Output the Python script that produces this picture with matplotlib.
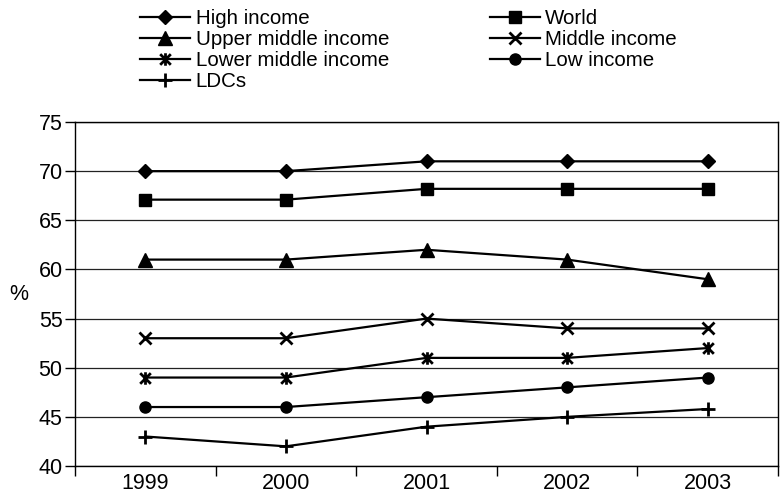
import matplotlib
matplotlib.use("Agg")
import matplotlib.pyplot as plt
from matplotlib.path import Path

plt.rcParams['font.family'] = ['Liberation Sans', 'DejaVu Sans']

years = ['1999', '2000', '2001', '2002', '2003']

high_income = [70, 70, 71, 71, 71]
world = [67.1, 67.1, 68.2, 68.2, 68.2]
upper_middle = [61, 61, 62, 61, 59]
middle_income = [53, 53, 55, 54, 54]
lower_middle = [49, 49, 51, 51, 52]
low_income = [46, 46, 47, 48, 49]
ldcs = [43, 42, 44, 45, 45.8]

# asterisk marker: vertical bar plus an X
star = Path([(0, -1), (0, 1), (-0.85, -0.85), (0.85, 0.85), (-0.85, 0.85), (0.85, -0.85)],
            [Path.MOVETO, Path.LINETO, Path.MOVETO, Path.LINETO, Path.MOVETO, Path.LINETO])

fig = plt.figure(figsize=(7.8, 4.97), dpi=100)
ax = fig.add_axes([75 / 780, 31 / 497, 703 / 780, 344 / 497])

x = range(len(years))
kw = dict(color='black', lw=1.6)
h1, = ax.plot(x, high_income, marker='D', ms=7, label='High income', **kw)
h2, = ax.plot(x, world, marker='s', ms=8, label='World', **kw)
h3, = ax.plot(x, upper_middle, marker='^', ms=9.5, label='Upper middle income', **kw)
h4, = ax.plot(x, middle_income, marker='x', ms=8, mew=2, label='Middle income', **kw)
h5, = ax.plot(x, lower_middle, marker=star, ms=9, mew=2, label='Lower middle income', **kw)
h6, = ax.plot(x, low_income, marker='o', ms=8, label='Low income', **kw)
h7, = ax.plot(x, ldcs, marker='+', ms=10, mew=2, label='LDCs', **kw)

ax.set_xlim(-0.5, len(years) - 0.5)
ax.set_ylim(40, 75)
ax.set_yticks(range(40, 80, 5))
ax.set_xticks(list(x))
ax.set_xticklabels(years)
ax.set_xticks([i - 0.5 for i in range(len(years) + 1)], minor=True)
ax.tick_params(axis='x', which='major', length=0, labelsize=15.5, pad=5)
ax.tick_params(axis='x', which='minor', length=7, width=1, direction='out')
ax.tick_params(axis='y', length=7, width=1, labelsize=15.5, pad=2)
ax.yaxis.grid(True, color='#222222', lw=0.9)
ax.set_axisbelow(True)
for s in ax.spines.values():
    s.set_linewidth(1)
ax.set_ylabel('%', fontsize=15.5, rotation=0, labelpad=14, va='center')

fig.legend(handles=[h1, h3, h5, h7, h2, h4, h6], loc='upper left',
           bbox_to_anchor=(140 / 780, 1 - 9 / 497), ncol=2, frameon=False,
           fontsize=14.8, handlelength=2.45, handletextpad=0.25,
           columnspacing=4.9, labelspacing=0.1, borderpad=0, borderaxespad=0)

fig.savefig('out.png', dpi=100)
